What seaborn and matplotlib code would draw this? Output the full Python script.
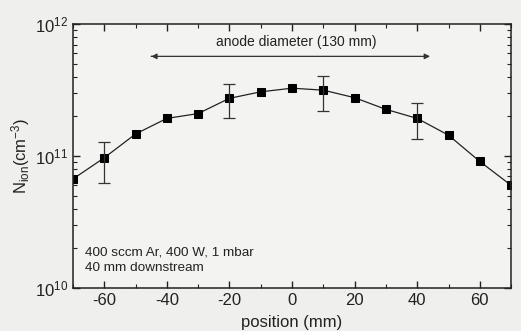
import matplotlib
matplotlib.use("Agg")
import matplotlib.pyplot as plt
import seaborn as sns
import numpy as np
import pandas as pd

positions = [-70, -60, -50, -40, -30, -20, -10, 0, 10, 20, 30, 40, 50, 60, 70]
density = [6.7e10, 9.7e10, 1.47e11, 1.93e11, 2.1e11, 2.74e11, 3.07e11, 3.27e11,
           3.16e11, 2.77e11, 2.26e11, 1.93e11, 1.44e11, 9.1e10, 6.0e10]
err_pos = [-60, -20, 10, 40]
err_val = [9.7e10, 2.74e11, 3.16e11, 1.93e11]
err_low = [6.3e10, 1.93e11, 2.2e11, 1.35e11]
err_high = [1.28e11, 3.51e11, 4.06e11, 2.51e11]

sns.set_theme(style="ticks")
plt.rcParams['font.family'] = ['Liberation Sans', 'DejaVu Sans']
plt.rcParams['axes.unicode_minus'] = False
plt.rcParams['mathtext.fontset'] = 'custom'
plt.rcParams['mathtext.rm'] = 'Liberation Sans'
plt.rcParams['mathtext.it'] = 'Liberation Sans:italic'
plt.rcParams['mathtext.bf'] = 'Liberation Sans:bold'

bg = "#efefed"
fig = plt.figure(figsize=(5.21, 3.31), dpi=100, facecolor=bg)
ax = fig.add_axes([0.140, 0.130, 0.841, 0.797])
ax.set_facecolor("#f3f3f1")

df = pd.DataFrame({"position": positions, "density": density})
sns.lineplot(data=df, x="position", y="density", ax=ax, color="#222222",
             linewidth=0.9, marker="s", markersize=5.5, markeredgecolor="black",
             markerfacecolor="black")

ev = np.array(err_val)
yerr = [ev - np.array(err_low), np.array(err_high) - ev]
ax.errorbar(err_pos, err_val, yerr=yerr, fmt="none", ecolor="#333333",
            elinewidth=0.9, capsize=4, capthick=0.9)

ax.set_yscale("log")
ax.set_ylim(1e10, 1e12)
ax.set_xlim(-70, 70)
ax.set_xticks([-60, -40, -20, 0, 20, 40, 60])
ax.set_xticks(np.arange(-70, 71, 10), minor=True)

ax.tick_params(axis="both", which="both", direction="in", top=True, right=True,
               colors="#222222", labelsize=12)
ax.tick_params(axis="both", which="major", length=5, width=1)
ax.tick_params(axis="both", which="minor", length=3, width=0.8)
ax.tick_params(axis="y", which="minor", labelleft=False)
for s in ax.spines.values():
    s.set_color("#222222")
    s.set_linewidth(1.1)

ax.set_xlabel("position (mm)", fontsize=12, color="#222222", labelpad=5)
ax.set_ylabel(r"N$_{\mathrm{ion}}$(cm$^{-3}$)", fontsize=12, color="#222222", labelpad=2)

ax.annotate("", xy=(45, 5.7e11), xytext=(-45, 5.7e11),
            arrowprops=dict(arrowstyle="-|>", color="#333333", lw=0.9,
                            mutation_scale=8))
ax.annotate("", xy=(-45, 5.7e11), xytext=(-44, 5.7e11),
            arrowprops=dict(arrowstyle="-|>", color="#333333", lw=0.9,
                            mutation_scale=8))
ax.text(1.5, 7.3e11, "anode diameter (130 mm)", ha="center", va="center",
        fontsize=10, color="#222222")
ax.text(-66, 1.87e10, "400 sccm Ar, 400 W, 1 mbar", ha="left", va="center",
        fontsize=9.7, color="#222222")
ax.text(-66, 1.42e10, "40 mm downstream", ha="left", va="center",
        fontsize=9.7, color="#222222")

fig.savefig("out.png", dpi=100, facecolor=bg)
